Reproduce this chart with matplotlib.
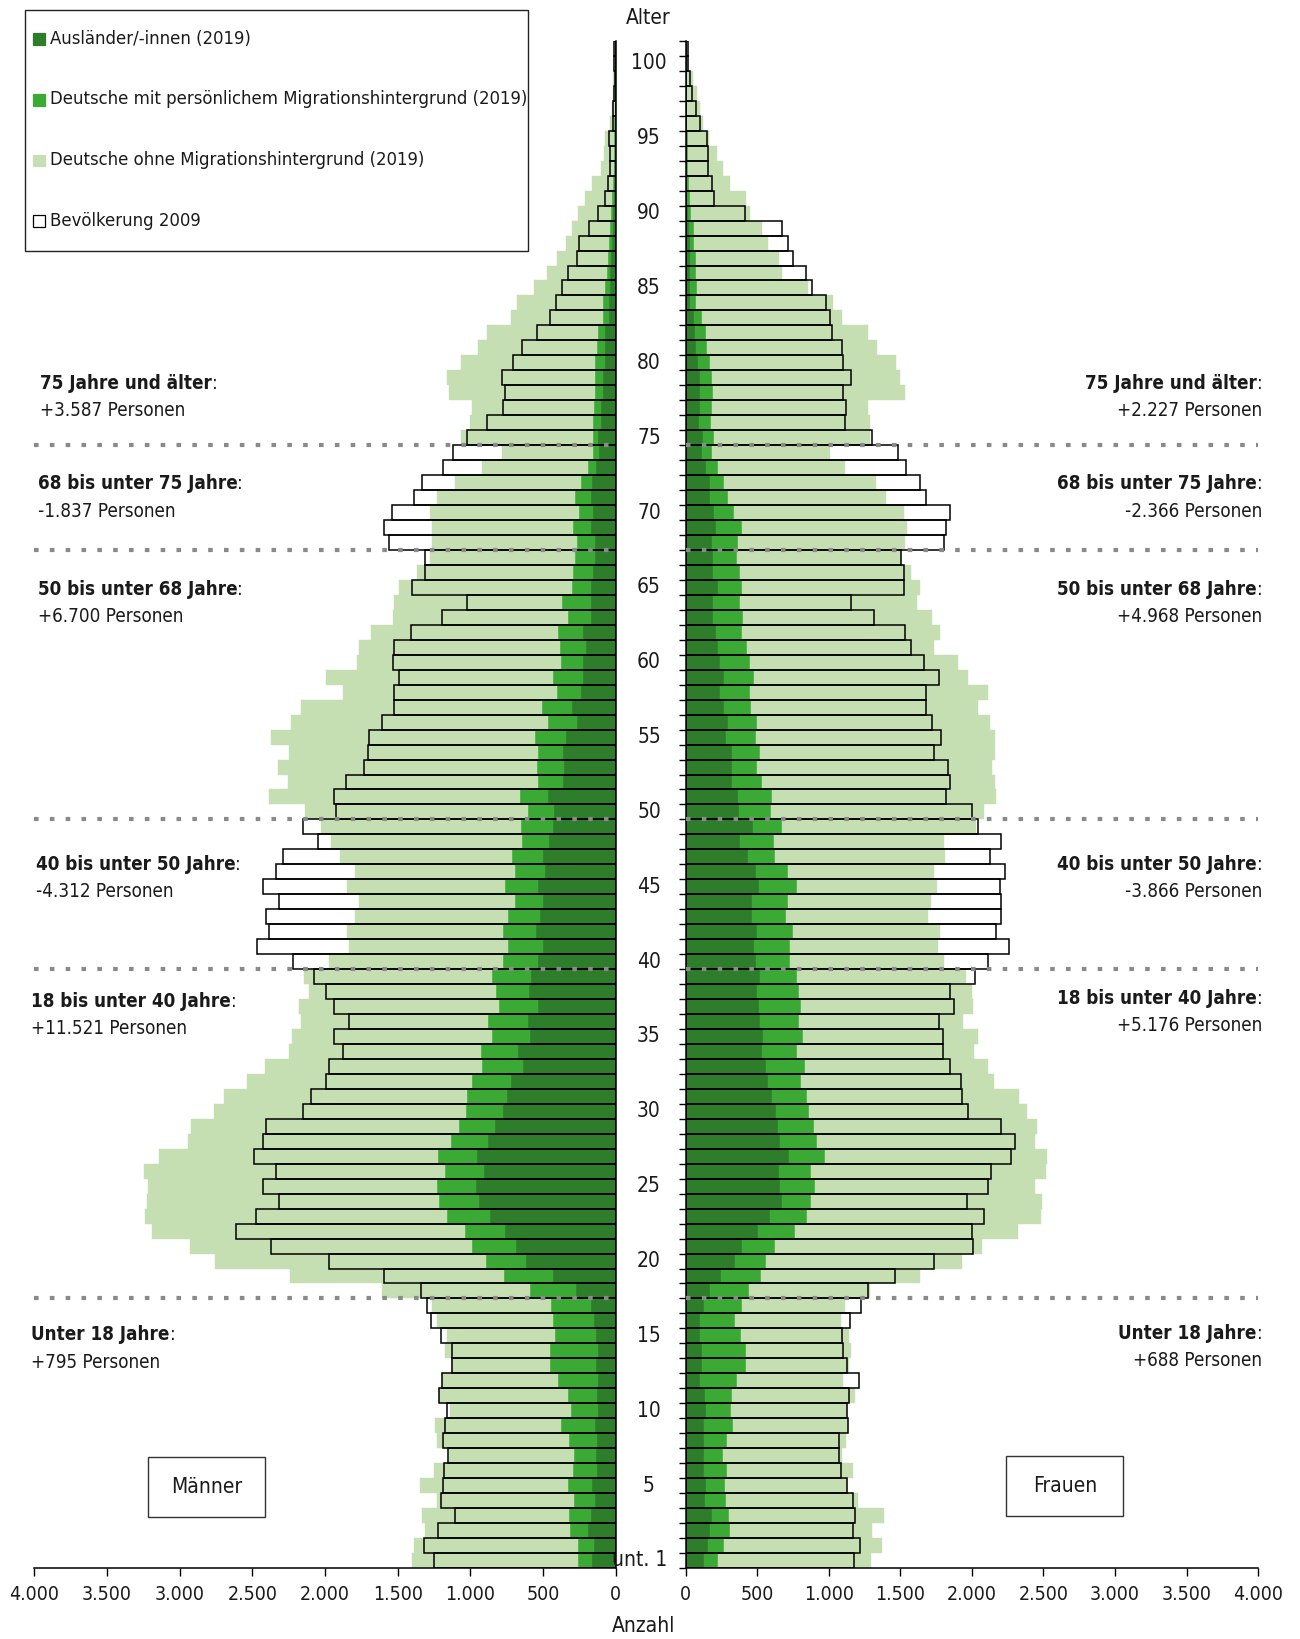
import matplotlib
matplotlib.use("Agg")
import matplotlib.pyplot as plt
from matplotlib.patches import Rectangle
from matplotlib.transforms import blended_transform_factory
import numpy as np

plt.rcParams['font.family'] = ['DejaVu Sans']
plt.rcParams['font.stretch'] = 'condensed'

# ages 0 ("unt. 1") .. 101
ages = np.arange(0, 102)

# Männer 2019: Ausländer, Deutsche mit Migrationshintergrund, Deutsche ohne
m_aus = [163, 148, 192, 167, 143, 163, 128, 133, 128, 138, 123, 128, 123, 133, 118, 133, 148, 167,
         271, 433, 616, 685, 764, 862, 941, 961, 906, 956, 877, 828, 773, 744, 719, 635, 670, 586,
         601, 532, 596, 581, 537, 502, 547, 517, 502, 532, 483, 502, 458, 433, 424, 463, 360, 355,
         360, 340, 266, 300, 241, 227, 227, 202, 222, 167, 172, 167, 158, 138, 143, 167, 158, 167,
         163, 133, 113, 123, 99, 99, 89, 89, 74, 74, 69, 44, 44, 40, 35, 30, 25, 20, 17, 12,
         10, 8, 6, 5, 4, 3, 2, 1, 1, 0]
m_mit = [98, 113, 118, 153, 143, 162, 163, 153, 192, 236, 182, 197, 271, 315, 330, 281, 285, 276,
         315, 335, 276, 305, 275, 301, 276, 271, 266, 266, 256, 251, 257, 276, 266, 281, 256, 266,
         276, 271, 227, 266, 236, 237, 226, 222, 193, 227, 207, 212, 187, 217, 177, 192, 172, 187,
         177, 217, 202, 207, 163, 202, 147, 177, 172, 158, 197, 133, 133, 143, 123, 129, 93, 109,
         73, 59, 45, 35, 59, 49, 49, 49, 69, 54, 54, 45, 45, 30, 25, 20, 17, 15, 11, 10,
         7, 5, 5, 4, 3, 2, 2, 2, 1, 1]
m_ohne = [1143, 1128, 1000, 1015, 946, 1020, 960, 862, 912, 872, 833, 887, 803, 675, 729, 749, 794, 818,
          1025, 1473, 1867, 1941, 2153, 2078, 2010, 1985, 2074, 1921, 1808, 1842, 1734, 1675, 1552, 1498, 1325, 1375,
          1286, 1374, 1285, 1301, 1197, 1093, 1074, 1054, 1073, 1088, 1103, 1183, 1311, 1375, 1537, 1729, 1724, 1783,
          1714, 1812, 1764, 1656, 1473, 1566, 1409, 1385, 1286, 1207, 1153, 1188, 1078, 995, 1000, 965, 1025, 951,
          867, 729, 625, 906, 842, 837, 1010, 1020, 921, 818, 764, 630, 591, 490, 410, 350, 298, 265, 232, 188,
          143, 87, 69, 61, 28, 20, 14, 12, 6, 4]
m_2009 = [1251, 1320, 1222, 1108, 1202, 1187, 1182, 1153, 1187, 1177, 1163, 1217, 1197, 1128, 1128, 1202, 1271, 1296,
          1340, 1596, 1975, 2369, 2616, 2478, 2320, 2429, 2340, 2488, 2424, 2404, 2153, 2094, 1990, 1970, 1877, 1941,
          1837, 1936, 1990, 2079, 2217, 2468, 2384, 2409, 2320, 2424, 2340, 2291, 2049, 2153, 1921, 1941, 1857, 1734,
          1704, 1695, 1611, 1522, 1522, 1493, 1532, 1527, 1409, 1192, 1025, 1404, 1315, 1315, 1557, 1591, 1542, 1384,
          1335, 1187, 1118, 1020, 887, 773, 759, 783, 704, 645, 542, 453, 409, 370, 325, 265, 250, 180, 120, 75,
          55, 35, 35, 45, 20, 15, 10, 5, 8, 8]

# Frauen 2019
w_aus = [131, 154, 173, 187, 135, 140, 126, 126, 126, 126, 140, 135, 98, 117, 112, 103, 98, 131,
         173, 248, 346, 397, 509, 589, 677, 659, 654, 724, 663, 649, 635, 607, 575, 561, 533, 542,
         523, 514, 500, 523, 495, 477, 500, 467, 467, 514, 495, 434, 383, 472, 374, 364, 322, 327,
         322, 285, 299, 266, 243, 266, 243, 224, 215, 192, 192, 224, 192, 192, 187, 210, 196, 173,
         173, 140, 112, 121, 93, 98, 98, 98, 84, 75, 65, 56, 33, 33, 33, 33, 28, 23, 15, 10,
         8, 6, 5, 4, 3, 2, 2, 1, 1, 0]
w_mit = [93, 117, 135, 117, 150, 136, 164, 136, 164, 206, 178, 192, 262, 308, 313, 285, 248, 266,
         271, 280, 215, 229, 257, 257, 201, 243, 224, 248, 253, 248, 229, 243, 233, 271, 247, 280,
         267, 290, 294, 253, 238, 252, 252, 234, 252, 262, 224, 192, 234, 201, 224, 243, 215, 173,
         201, 210, 201, 192, 210, 215, 206, 206, 182, 210, 191, 168, 191, 168, 177, 182, 145, 121,
         93, 84, 70, 75, 85, 84, 94, 89, 89, 75, 75, 61, 42, 46, 42, 37, 28, 33, 22, 20,
         17, 14, 12, 10, 7, 5, 3, 2, 1, 1]
w_ohne = [1070, 1103, 991, 1084, 920, 855, 883, 831, 831, 803, 813, 855, 743, 720, 734, 752, 738, 715,
          845, 1107, 1369, 1444, 1556, 1635, 1612, 1541, 1640, 1551, 1527, 1556, 1523, 1477, 1350, 1280, 1234, 1224,
          1149, 1205, 1206, 1186, 1070, 1037, 1023, 995, 996, 981, 1019, 1187, 1191, 1357, 1490, 1565, 1626, 1644,
          1640, 1668, 1630, 1584, 1659, 1491, 1457, 1303, 1378, 1317, 1234, 1248, 1191, 1144, 1168, 1154, 1182, 1103,
          1066, 888, 827, 1093, 1111, 1093, 1340, 1308, 1299, 1186, 1135, 976, 953, 776, 602, 584, 523, 481, 412, 395,
          283, 242, 203, 150, 111, 91, 74, 48, 17, 11]
w_2009 = [1177, 1219, 1173, 1187, 1173, 1131, 1089, 1075, 1075, 1135, 1131, 1145, 1210, 1126, 1103, 1093, 1149, 1224,
          1275, 1462, 1738, 2009, 2000, 2084, 1967, 2116, 2135, 2275, 2303, 2205, 1972, 1934, 1925, 1850, 1799, 1799,
          1771, 1873, 1850, 2023, 2112, 2261, 2172, 2205, 2205, 2200, 2233, 2130, 2205, 2046, 2000, 1822, 1845, 1836,
          1738, 1785, 1719, 1677, 1682, 1771, 1663, 1574, 1532, 1313, 1159, 1523, 1523, 1504, 1808, 1822, 1845, 1677,
          1635, 1542, 1486, 1303, 1112, 1121, 1103, 1154, 1098, 1093, 1023, 1009, 981, 883, 841, 752, 715, 673, 416, 196,
          182, 159, 154, 150, 98, 70, 42, 28, 19, 14]

legend_labels = ["Ausländer/-innen (2019)",
                 "Deutsche mit persönlichem Migrationshintergrund (2019)",
                 "Deutsche ohne Migrationshintergrund (2019)",
                 "Bevölkerung 2009"]

group_bounds = [17.5, 39.5, 49.5, 67.5, 74.5]
group_names = ["75 Jahre und älter", "68 bis unter 75 Jahre", "50 bis unter 68 Jahre",
               "40 bis unter 50 Jahre", "18 bis unter 40 Jahre", "Unter 18 Jahre"]
men_change = ["+3.587", "-1.837", "+6.700", "-4.312", "+11.521", "+795"]
women_change = ["+2.227", "-2.366", "+4.968", "-3.866", "+5.176", "+688"]

DARK = '#2d7d2a'
MID = '#3aaa35'
LIGHT = '#c5dfb2'
DOT = '#8a8a8a'
TXT = '#1a1a1a'
FS = 13.5

W, H = 1244.0, 1568.0  # reference layout measured on the shrunk picture


def fx(x):
    return x / W


def fy(y):
    return 1 - y / H


fig = plt.figure(figsize=(13, 16.39), dpi=100)
bottom, top = fy(1500), fy(39.2)
ax_m = fig.add_axes([fx(33), bottom, fx(589) - fx(33), top - bottom])
ax_w = fig.add_axes([fx(656), bottom, fx(1204) - fx(656), top - bottom])


def pyramid(ax, aus, mit, ohne, pop09):
    aus, mit, ohne, pop09 = (np.asarray(v, float) for v in (aus, mit, ohne, pop09))
    ax.barh(ages, pop09, height=1.0, color='white', lw=0, zorder=1)
    ax.barh(ages, aus, height=1.0, color=DARK, ec=DARK, lw=0.3, zorder=2)
    ax.barh(ages, mit, left=aus, height=1.0, color=MID, ec=MID, lw=0.3, zorder=2)
    ax.barh(ages, ohne, left=aus + mit, height=1.0, color=LIGHT, ec=LIGHT, lw=0.3, zorder=2)
    ax.barh(ages, pop09, height=1.0, fill=False, ec='black', lw=1.1, zorder=3)
    ax.set_ylim(-0.5, 101.5)
    ticks = np.arange(0, 4001, 500)
    ax.set_xticks(ticks)
    ax.set_xticklabels([f"{t:,}".replace(',', '.') for t in ticks], fontsize=14, color=TXT)
    ax.tick_params(axis='x', direction='out', length=6, width=1, pad=6)
    ax.spines['top'].set_visible(False)
    ax.spines['bottom'].set_linewidth(1.1)
    for b in group_bounds:
        ax.axhline(b, color=DOT, lw=3, ls=(0, (1.1, 2.7)), zorder=5, clip_on=False)


pyramid(ax_m, m_aus, m_mit, m_ohne, m_2009)
pyramid(ax_w, w_aus, w_mit, w_ohne, w_2009)

ax_m.set_xlim(4000, 0)
ax_m.spines['left'].set_visible(False)
ax_m.spines['right'].set_linewidth(1.1)
ax_m.set_yticks([])

ax_w.set_xlim(0, 4000)
ax_w.spines['right'].set_visible(False)
ax_w.spines['left'].set_linewidth(1.1)
ax_w.set_yticks(np.arange(-0.5, 102, 1))
ax_w.set_yticklabels([])
ax_w.tick_params(axis='y', direction='out', length=5, width=1)

# age labels in the centre column
tr = blended_transform_factory(fig.transFigure, ax_w.transData)
for a in range(5, 101, 5):
    fig.text(fx(621), a, str(a), transform=tr, ha='center', va='center', fontsize=15, color=TXT)
fig.text(fx(612), 0, "unt. 1", transform=tr, ha='center', va='center', fontsize=15, color=TXT)

fig.text(fx(620), fy(17), "Alter", ha='center', va='center', fontsize=15, color=TXT)
fig.text(fx(616), fy(1556), "Anzahl", ha='center', va='center', fontsize=15, color=TXT)

# legend box
fig.patches.append(Rectangle((fx(24), fy(240)), fx(505) - fx(24), fy(10) - fy(240),
                             transform=fig.transFigure, fill=False, ec='#222222', lw=1))
leg_y = [37, 95, 153, 211]
leg_face = [DARK, MID, LIGHT, 'white']
for yy, lab, fc in zip(leg_y, legend_labels, leg_face):
    ec = 'black' if fc == 'white' else fc
    fig.patches.append(Rectangle((fx(32), fy(yy + 6)), fx(11), fx(11) * W / H,
                                 transform=fig.transFigure, fc=fc, ec=ec, lw=0.9))
    fig.text(fx(48), fy(yy), lab, ha='left', va='center', fontsize=13.2, color=TXT)

# Männer / Frauen boxes
for (x0, x1, y0, y1, lab) in [(142, 254, 1394, 1451, "Männer"), (963, 1075, 1393, 1450, "Frauen")]:
    fig.patches.append(Rectangle((fx(x0), fy(y1)), fx(x1) - fx(x0), fy(y0) - fy(y1),
                                 transform=fig.transFigure, fill=False, ec='#333333', lw=1))
    fig.text(fx((x0 + x1) / 2), fy((y0 + y1) / 2), lab, ha='center', va='center', fontsize=15,
             color=TXT)

# group annotations
renderer = fig.canvas.get_renderer()
left_y = [367, 463, 564, 827, 958, 1277]
left_x = [38, 36, 36, 34, 30, 30]
right_y = [367, 463, 564, 827, 955, 1276]
right_x = 1208

for name, ch, yy, xx in zip(group_names, men_change, left_y, left_x):
    t = fig.text(fx(xx), fy(yy), name, ha='left', va='center', fontsize=FS, weight='bold', color=TXT)
    bb = t.get_window_extent(renderer)
    fig.text(bb.x1 / fig.bbox.width, fy(yy), ":", ha='left', va='center', fontsize=FS, color=TXT)
    fig.text(fx(xx), fy(yy + 26), f"{ch} Personen", ha='left', va='center', fontsize=FS, color=TXT)

for name, ch, yy in zip(group_names, women_change, right_y):
    c = fig.text(fx(right_x), fy(yy), ":", ha='right', va='center', fontsize=FS, color=TXT)
    bb = c.get_window_extent(renderer)
    fig.text(bb.x0 / fig.bbox.width, fy(yy), name, ha='right', va='center', fontsize=FS,
             weight='bold', color=TXT)
    fig.text(fx(right_x), fy(yy + 26), f"{ch} Personen", ha='right', va='center', fontsize=FS,
             color=TXT)

fig.savefig("out.png", dpi=100, facecolor='white')
